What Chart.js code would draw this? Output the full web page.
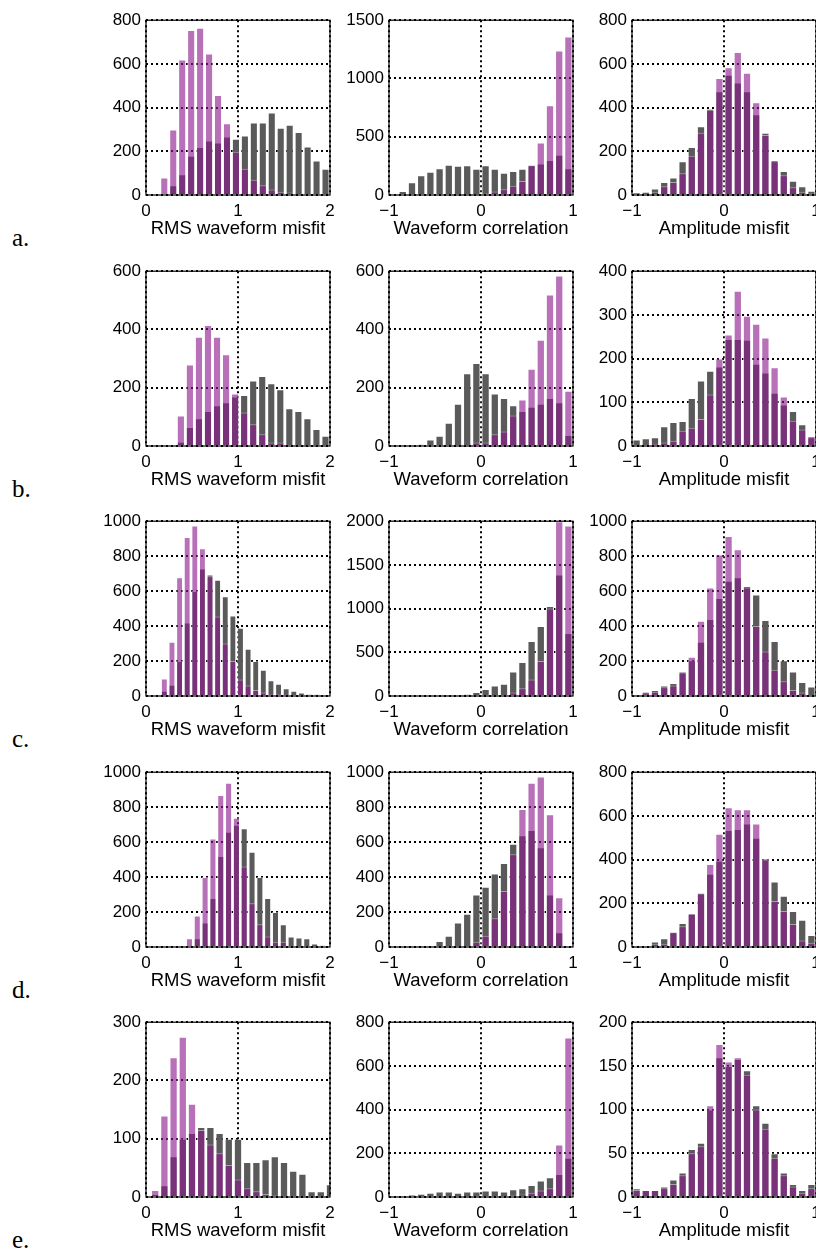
<!DOCTYPE html>
<html>
<head>
<meta charset="utf-8">
<title>Misfit histograms</title>
<script src="https://cdn.jsdelivr.net/npm/chart.js@4.4.0/dist/chart.umd.min.js"></script>
<style>
  html, body { margin: 0; padding: 0; width: 816px; height: 1251px; overflow: hidden; background: #fff; }
  .panel { position: absolute; }
  .rowLabel { position: absolute; left: 12px; font-family: "Liberation Serif", "DejaVu Serif", serif; font-size: 25px; line-height: 25px; color: #000; }
</style>
</head>
<body>
<script>
// ---- Daten ----
const rowLetters = ["a.", "b.", "c.", "d.", "e."];
const xTitles = ["RMS waveform misfit", "Waveform correlation", "Amplitude misfit"];
const xRanges = [[0, 2], [-1, 1], [-1, 1]];

// y-Achse pro Zeile: [RMS, Korrelation, Amplitude]
const yMax = [[800, 1500, 800], [600, 600, 400], [1000, 2000, 1000], [1000, 1000, 800], [300, 800, 200]];
const yStep = [[200, 500, 200], [200, 200, 100], [200, 500, 200], [200, 200, 200], [100, 200, 50]];

// Klassengrenzen [von, bis] der RMS-Histogramme
const rmsBinsA = [0.15, 2.0];
const rmsBinsB = [0.33, 2.0];
const rmsBinsC = [0.158, 1.896];
const rmsBinsD = [0.43, 1.96];
const rmsBinsE = [0.05, 2.05];
const unitBins = [-1, 1];

// Zeile a
const rmsGrayA   = [5, 45, 95, 180, 220, 250, 240, 268, 258, 272, 332, 332, 378, 308, 322, 288, 222, 158, 120];
const rmsPurpleA = [80, 300, 620, 755, 765, 648, 458, 328, 198, 120, 70, 45, 25, 15, 12, 5, 5, 3, 0];
const corrGrayA   = [0, 35, 110, 170, 200, 230, 260, 250, 255, 225, 255, 225, 190, 205, 225, 260, 270, 300, 345, 230];
const corrPurpleA = [0, 0, 0, 0, 0, 0, 0, 0, 0, 2, 15, 30, 50, 80, 120, 255, 450, 770, 1240, 1360];
const ampGrayA   = [12, 15, 30, 60, 80, 155, 220, 315, 395, 475, 550, 515, 475, 370, 285, 160, 110, 65, 40, 20];
const ampPurpleA = [3, 5, 15, 40, 60, 100, 180, 285, 390, 535, 585, 655, 560, 425, 275, 155, 90, 35, 15, 10];

// Zeile b
const rmsGrayB   = [15, 65, 95, 120, 140, 150, 170, 175, 225, 240, 215, 195, 130, 120, 95, 58, 35];
const rmsPurpleB = [105, 280, 375, 415, 375, 315, 180, 115, 75, 40, 12, 12, 5, 3, 3, 0, 0];
const corrGrayB   = [0, 0, 2, 5, 22, 35, 80, 145, 250, 285, 250, 180, 165, 140, 120, 135, 145, 165, 150, 38];
const corrPurpleB = [0, 0, 0, 0, 0, 0, 0, 0, 2, 12, 12, 40, 50, 105, 160, 265, 365, 520, 585, 190];
const ampGrayB   = [15, 18, 20, 45, 55, 57, 110, 150, 172, 182, 245, 245, 243, 188, 168, 122, 95, 80, 50, 20];
const ampPurpleB = [0, 0, 5, 8, 12, 35, 42, 62, 118, 200, 255, 355, 298, 280, 248, 180, 113, 58, 38, 23];

// Zeile c
const rmsGrayC   = [30, 65, 200, 420, 600, 730, 695, 665, 570, 460, 390, 270, 200, 150, 90, 70, 45, 30, 20, 10, 8];
const rmsPurpleC = [100, 310, 680, 910, 975, 845, 685, 455, 300, 200, 95, 60, 35, 20, 12, 10, 8, 5, 3, 0, 0];
const corrGrayC   = [0, 0, 0, 0, 0, 0, 5, 10, 20, 45, 80, 120, 140, 280, 390, 630, 800, 1030, 1390, 720];
const corrPurpleC = [0, 0, 0, 0, 0, 0, 0, 0, 0, 0, 0, 5, 12, 40, 90, 190, 400, 1000, 2000, 1950];
const ampGrayC   = [5, 25, 35, 60, 75, 140, 205, 310, 440, 560, 660, 680, 630, 580, 435, 315, 205, 140, 80, 55];
const ampPurpleC = [2, 15, 25, 50, 60, 135, 225, 430, 620, 810, 915, 840, 620, 400, 255, 150, 85, 35, 20, 5];

// Zeile d
const rmsGrayD   = [5, 50, 140, 280, 520, 660, 700, 680, 545, 400, 280, 200, 130, 60, 55, 50, 20, 8];
const rmsPurpleD = [50, 180, 400, 620, 870, 940, 740, 460, 250, 130, 60, 30, 30, 5, 3, 2, 0, 0];
const corrGrayD   = [0, 0, 0, 0, 0, 35, 65, 140, 190, 300, 345, 420, 480, 590, 640, 670, 570, 300, 85, 0];
const corrPurpleD = [0, 0, 0, 0, 0, 0, 0, 0, 5, 30, 65, 165, 320, 530, 790, 940, 975, 760, 285, 0];
const ampGrayD   = [0, 5, 25, 40, 70, 110, 155, 248, 335, 395, 535, 540, 565, 500, 405, 300, 235, 165, 125, 55];
const ampPurpleD = [0, 3, 15, 15, 68, 95, 152, 245, 380, 518, 640, 630, 630, 565, 400, 210, 165, 105, 30, 20];

// Zeile e
const rmsGrayE   = [5, 20, 70, 100, 110, 120, 120, 110, 100, 100, 60, 60, 65, 70, 60, 45, 40, 10, 10, 22];
const rmsPurpleE = [12, 140, 240, 275, 160, 115, 90, 75, 55, 30, 15, 10, 5, 3, 2, 2, 0, 0, 0, 0];
const corrGrayE   = [0, 5, 10, 15, 20, 25, 25, 20, 25, 25, 30, 30, 25, 35, 40, 55, 75, 90, 105, 180];
const corrPurpleE = [0, 0, 0, 0, 0, 0, 0, 0, 0, 0, 2, 3, 5, 8, 12, 20, 30, 40, 240, 730];
const ampGrayE   = [10, 8, 8, 12, 20, 28, 55, 62, 100, 160, 150, 158, 145, 105, 85, 50, 28, 15, 8, 15];
const ampPurpleE = [8, 8, 8, 10, 15, 25, 50, 58, 105, 175, 155, 160, 140, 100, 78, 45, 25, 12, 5, 10];

const rows = [
  [[rmsGrayA, rmsPurpleA, rmsBinsA], [corrGrayA, corrPurpleA, unitBins], [ampGrayA, ampPurpleA, unitBins]],
  [[rmsGrayB, rmsPurpleB, rmsBinsB], [corrGrayB, corrPurpleB, unitBins], [ampGrayB, ampPurpleB, unitBins]],
  [[rmsGrayC, rmsPurpleC, rmsBinsC], [corrGrayC, corrPurpleC, unitBins], [ampGrayC, ampPurpleC, unitBins]],
  [[rmsGrayD, rmsPurpleD, rmsBinsD], [corrGrayD, corrPurpleD, unitBins], [ampGrayD, ampPurpleD, unitBins]],
  [[rmsGrayE, rmsPurpleE, rmsBinsE], [corrGrayE, corrPurpleE, unitBins], [ampGrayE, ampPurpleE, unitBins]],
];

// ---- Layout ----
const PLOT_LEFT = [146, 389, 632];
const PLOT_W = 184;
const PLOT_H = 178;
const PLOT_TOP0 = 17;
const ROW_STEP = 250.5;
const Y_AXIS_W = 50;
const X_AXIS_H = 46;
const PAD_TOP = 12;
const PAD_RIGHT = 12;

const GRAY = "#5a5a5a";
const PURPLE = "rgba(140, 25, 140, 0.62)";
const FONT = "'Liberation Sans', Arial, Helvetica, sans-serif";

const fmtTick = v => (v < 0 ? "\u2212" + Math.abs(v) : String(v));

// Rahmen um die Plotflaeche
const framePlugin = {
  id: "frame",
  afterDraw(chart) {
    const { ctx, chartArea: a } = chart;
    ctx.save();
    ctx.strokeStyle = "#000";
    ctx.lineWidth = 1.2;
    ctx.strokeRect(a.left, a.top, a.right - a.left, a.bottom - a.top);
    ctx.restore();
  }
};

function makePanel(r, c, gray, purple, bins) {
  const box = document.createElement("div");
  box.className = "panel";
  const top = Math.round(PLOT_TOP0 + ROW_STEP * r) - PAD_TOP;
  box.style.left = (PLOT_LEFT[c] - Y_AXIS_W) + "px";
  box.style.top = top + "px";
  box.style.width = (Y_AXIS_W + PLOT_W + PAD_RIGHT) + "px";
  box.style.height = (PAD_TOP + PLOT_H + X_AXIS_H) + "px";
  const canvas = document.createElement("canvas");
  box.appendChild(canvas);
  document.body.appendChild(box);

  const [lo, hi] = bins;
  const w = (hi - lo) / gray.length;
  const toPoints = arr => arr.map((v, i) => ({ x: lo + (i + 0.5) * w, y: v }));

  const barStyle = {
    grouped: false,
    barPercentage: 0.9,
    categoryPercentage: 1,
    borderWidth: 1,
    borderColor: "rgba(255,255,255,0.45)",
  };

  new Chart(canvas, {
    type: "bar",
    data: {
      datasets: [
        { ...barStyle, data: toPoints(purple), backgroundColor: PURPLE, order: 0 },
        { ...barStyle, data: toPoints(gray), backgroundColor: GRAY, order: 1 },
      ]
    },
    options: {
      responsive: true,
      maintainAspectRatio: false,
      animation: false,
      layout: { padding: { top: PAD_TOP, right: PAD_RIGHT, left: 0, bottom: 0 } },
      plugins: { legend: { display: false }, tooltip: { enabled: false } },
      scales: {
        x: {
          type: "linear",
          min: xRanges[c][0],
          max: xRanges[c][1],
          offset: false,
          z: 1,
          afterFit: s => { s.height = X_AXIS_H; },
          grid: { offset: false, color: "#000", lineWidth: 2, drawTicks: false },
          border: { display: false, dash: [2, 3] },
          ticks: { stepSize: 1, padding: 6, color: "#000", font: { family: FONT, size: 17 }, maxRotation: 0, autoSkip: false, callback: fmtTick },
          title: { display: true, text: xTitles[c], color: "#000", font: { family: FONT, size: 18.5 }, padding: { top: 0, bottom: 1 } }
        },
        y: {
          min: 0,
          max: yMax[r][c],
          z: 1,
          afterFit: s => { s.width = Y_AXIS_W; },
          grid: { color: "#000", lineWidth: 2, drawTicks: false },
          border: { display: false, dash: [2, 3] },
          ticks: { stepSize: yStep[r][c], padding: 5, color: "#000", font: { family: FONT, size: 17 }, callback: fmtTick }
        }
      }
    },
    plugins: [framePlugin]
  });
}

rows.forEach((row, r) => {
  const lbl = document.createElement("div");
  lbl.className = "rowLabel";
  lbl.style.top = Math.round(225 + ROW_STEP * r) + "px";
  lbl.textContent = rowLetters[r];
  document.body.appendChild(lbl);
  row.forEach(([gray, purple, bins], c) => makePanel(r, c, gray, purple, bins));
});
</script>
</body>
</html>
